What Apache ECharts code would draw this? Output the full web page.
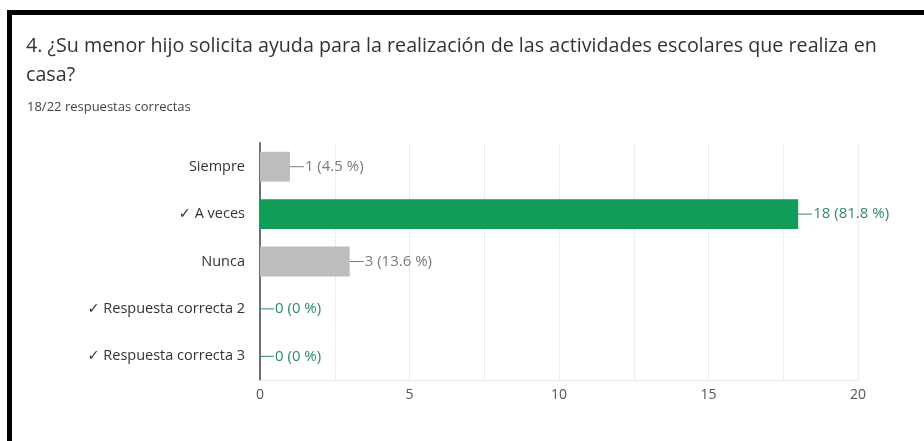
<html>
<head>
    <meta charset="utf-8">
    <title>Respuestas</title>
    <script src="https://cdn.jsdelivr.net/npm/echarts@6/dist/echarts.min.js"></script>
    <style>
        html, body { margin: 0; padding: 0; background: #fff; }
        #frame {
            position: absolute; left: 7px; top: 10px; width: 917px; height: 431px;
            border-top: 5px solid #000; border-left: 5px solid #000;
            box-sizing: border-box;
        }
        #main { position: absolute; left: 0; top: 0; width: 924px; height: 441px; }
    </style>
</head>
<body>
<div id="frame"></div>
<div id="main"></div>
<script>
    // datos
    var categories = ['Siempre', '✓ A veces', 'Nunca', '✓ Respuesta correcta 2', '✓ Respuesta correcta 3'];
    var counts = [1, 18, 3, 0, 0];
    var percents = ['4.5', '81.8', '13.6', '0', '0'];
    var isCorrect = [false, true, false, true, true];
    var xTicks = [0, 5, 10, 15, 20];

    var GRAY = '#bdbdbd', GREEN = '#0f9d58';
    var FONT = '"Open Sans", "DejaVu Sans", sans-serif';

    var myChart = echarts.init(document.getElementById('main'));

    var barData = counts.map(function (v, i) {
        var c = isCorrect[i] ? '#2d8a6e' : '#7a7a7a';
        return {
            value: v,
            itemStyle: { color: isCorrect[i] ? GREEN : GRAY },
            label: {
                color: c,
                rich: {
                    ln: { width: 14, height: 1, backgroundColor: c },
                    t: { color: c, fontSize: 15, fontFamily: FONT, padding: [0, 0, 0, 1] }
                }
            }
        };
    });

    var option = {
        animation: false,
        textStyle: { fontFamily: FONT },
        title: [{
            text: '4. ¿Su menor hijo solicita ayuda para la realización de las actividades escolares que realiza en\ncasa?',
            left: 26, top: 32, padding: 0,
            textStyle: { fontSize: 19.7, fontWeight: 'normal', color: '#333', lineHeight: 29, fontFamily: FONT }
        }, {
            text: '18/22 respuestas correctas',
            left: 27, top: 101, padding: 0,
            textStyle: { fontSize: 13, fontWeight: 'normal', color: '#444', fontFamily: FONT }
        }],
        grid: { left: 260, right: 66, top: 143, bottom: 61, containLabel: false },
        xAxis: {
            type: 'value',
            min: xTicks[0], max: xTicks[xTicks.length - 1], interval: 2.5,
            axisLine: { show: true, lineStyle: { color: '#e6e6e6' } },
            axisTick: { show: false },
            splitLine: { lineStyle: { color: '#ececec' } },
            axisLabel: {
                color: '#555', fontSize: 14, margin: 8, fontFamily: FONT,
                formatter: function (v) { return xTicks.indexOf(v) >= 0 ? String(v) : ''; }
            }
        },
        yAxis: {
            type: 'category',
            data: categories,
            inverse: true,
            axisLine: { show: true, lineStyle: { color: '#6f6f6f', width: 2 } },
            axisTick: { show: false },
            axisLabel: { color: '#333', fontSize: 14.5, margin: 15, fontFamily: FONT }
        },
        series: [{
            type: 'bar',
            data: barData,
            barCategoryGap: '37%',
            label: {
                show: true, position: 'right', distance: 0,
                formatter: function (p) {
                    return '{ln|}{t|' + p.value + ' (' + percents[p.dataIndex] + ' %)}';
                }
            }
        }]
    };

    myChart.setOption(option);
</script>
</body>
</html>
